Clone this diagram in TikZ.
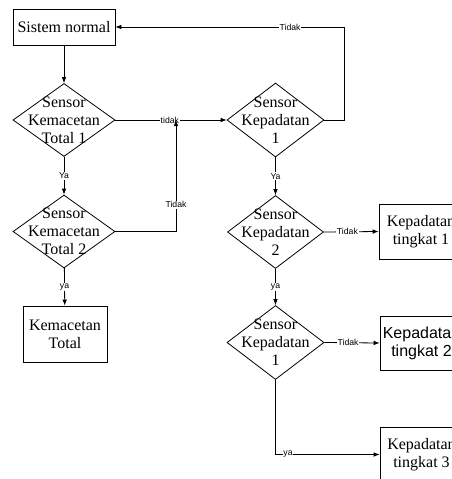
\documentclass[tikz,border=0pt]{standalone}
\usepackage{fontspec}
\setmainfont{Liberation Serif}
\newfontfamily\lsans{Liberation Sans}
\usetikzlibrary{shapes.geometric,arrows.meta}
\begin{document}
\begin{tikzpicture}[x=0.75pt,y=-0.75pt,
  font=\fontsize{12}{13.5}\selectfont,
  box/.style={draw,line width=0.6pt,inner sep=0pt,align=center},
  dia/.style={draw,diamond,line width=0.6pt,inner sep=0pt},
  dtext/.style={label={[align=center]center:#1}},
  conn/.style={line width=0.6pt,-{Latex[length=4.5pt,width=3.5pt]}},
  lbl/.style={fill=white,inner sep=0.6pt,font=\fontsize{6.5}{7}\lsans}
]
\useasboundingbox (0,0) rectangle (452,479);
\clip (0,0) rectangle (452,479);

% boxes
\node[box,minimum width=76.5pt,minimum height=27pt] (sn) at (64,27) {Sistem normal};
\node[box,minimum width=63pt,minimum height=42pt] (kt) at (65,334) {Kemacetan\\Total};
\node[box,minimum width=63pt,minimum height=41.25pt] (b1) at (421,231.5) {Kepadatan\\tingkat 1};
\node[box,minimum width=62.25pt,minimum height=40.5pt,font=\fontsize{12}{13.5}\lsans] (b2) at (421.5,343) {Kepadatan\\tingkat 2};
\node[box,minimum width=62.25pt,minimum height=41.25pt] (b3) at (421.5,454.5) {Kepadatan\\tingkat 3};

% decisions
\node[dia,minimum width=76.5pt,minimum height=54.75pt,dtext={Sensor\\Kemacetan\\Total 1}] (d1) at (64,120) {};
\node[dia,minimum width=76.5pt,minimum height=54.75pt,dtext={Sensor\\Kemacetan\\Total 2}] (d2) at (64,231.5) {};
\node[dia,minimum width=72.75pt,minimum height=55.5pt,dtext={Sensor\\Kepadatan\\1}] (d3) at (275.5,120) {};
\node[dia,minimum width=72pt,minimum height=54.75pt,dtext={Sensor\\Kepadatan\\2}] (d4) at (275.5,232) {};
\node[dia,minimum width=72.75pt,minimum height=55.5pt,dtext={Sensor\\Kepadatan\\1}] (d5) at (275.5,342.5) {};

% helper coordinates
\coordinate (j1) at (176,120);
\coordinate (c1) at (344,120);
\coordinate (c2) at (344,27);

% connectors
\draw[conn] (sn) -- (d1);
\draw[conn] (d1) -- node[lbl]{Ya} (d2);
\draw[conn] (d2) -- node[lbl]{ya} (kt);
\draw[conn] (d1.east) -- node[lbl,pos=0.49]{tidak} (d3.west);
\draw[conn] (d2.east) -| node[lbl,pos=0.62]{Tidak} (j1);
\draw[conn] (d3.east) -- (c1) -- (c2) -- node[lbl,pos=0.236]{Tidak} (sn.east);
\draw[conn] (d3) -- node[lbl]{Ya} (d4);
\draw[conn] (d4.east) -- node[lbl,pos=0.43]{Tidak} (b1.west);
\draw[conn] (d4) -- node[lbl]{ya} (d5);
\draw[conn] (d5.east) -- node[lbl,pos=0.43]{Tidak} (b2.west);
\draw[conn] (d5.south) |- node[lbl,pos=0.56]{ya} (b3.west);
\end{tikzpicture}
\end{document}
